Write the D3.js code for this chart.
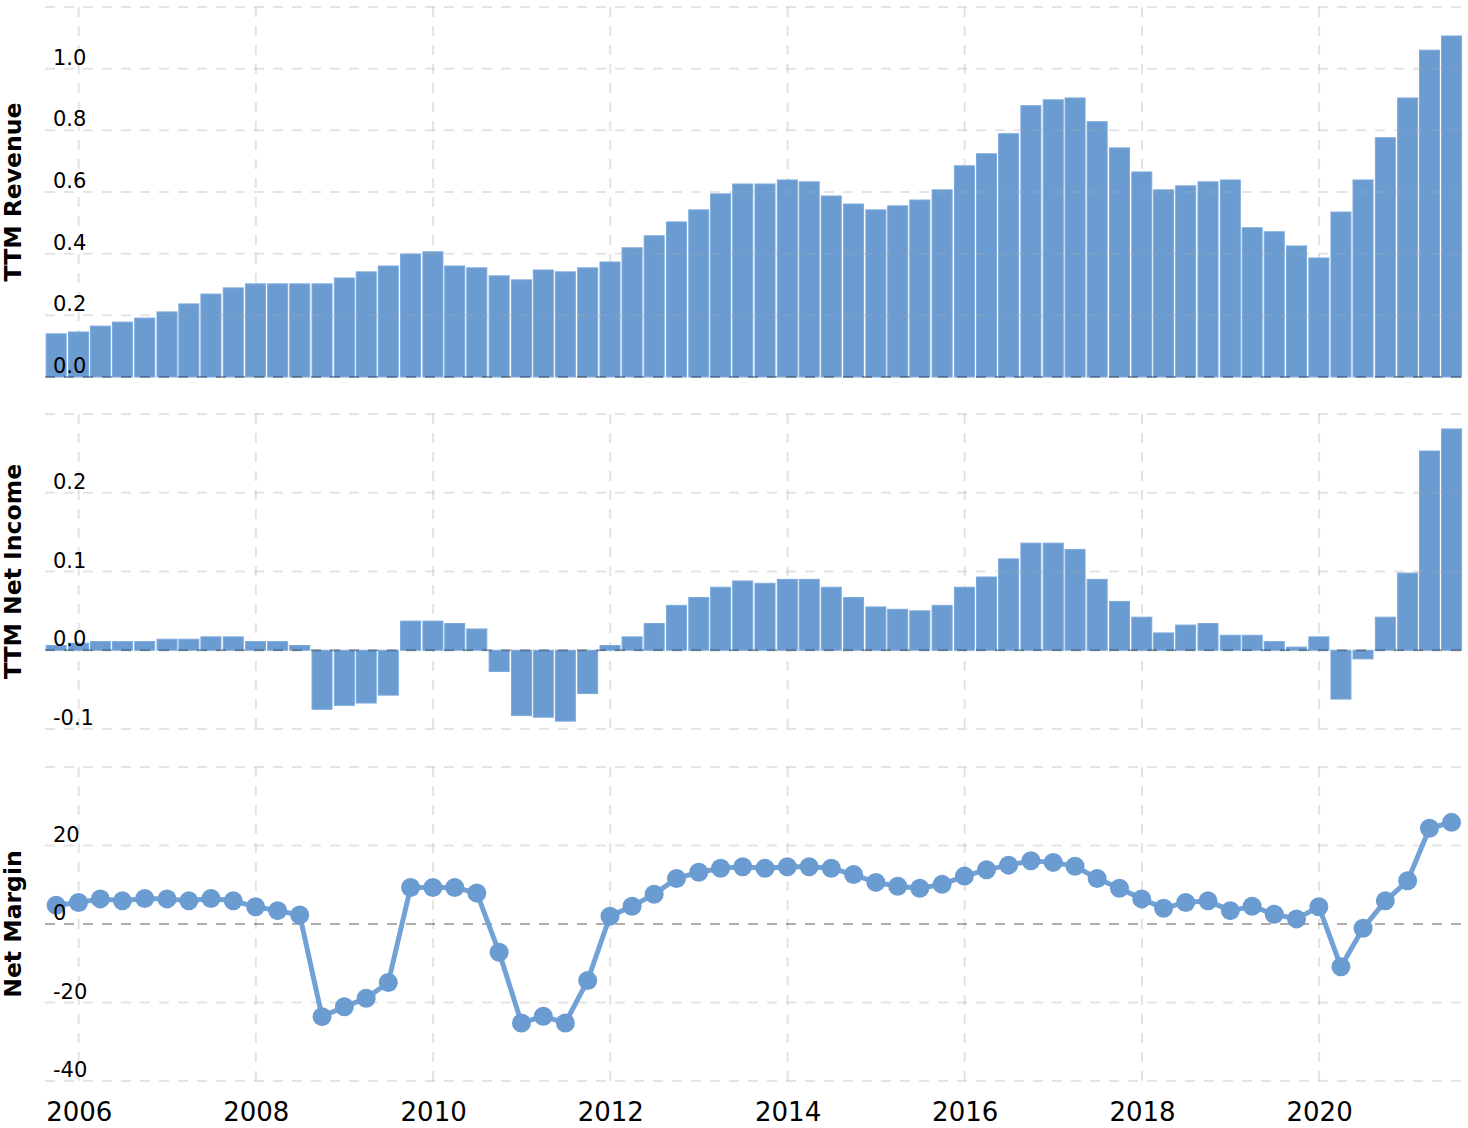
<!DOCTYPE html>
<html>
<head>
<meta charset="utf-8">
<script src="https://cdn.jsdelivr.net/npm/d3@7"></script>
<style>
  body { margin: 0; background: #fff; }
  text { font-family: "DejaVu Sans", Verdana, sans-serif; }
</style>
</head>
<body>
<div id="vis"></div>
<script>
const FRAME_WIDTH = 1468;
const FRAME_HEIGHT = 1128;
const PLOT_LEFT = 45;
const PLOT_RIGHT = 1462;
const BAR_COLOR = "#6a9bd1";

// quarter end dates (one per bar / point)
const QUARTERS = [
  "2005-09-30", "2005-12-31",
  "2006-03-31", "2006-06-30", "2006-09-30", "2006-12-31",
  "2007-03-31", "2007-06-30", "2007-09-30", "2007-12-31",
  "2008-03-31", "2008-06-30", "2008-09-30", "2008-12-31",
  "2009-03-31", "2009-06-30", "2009-09-30", "2009-12-31",
  "2010-03-31", "2010-06-30", "2010-09-30", "2010-12-31",
  "2011-03-31", "2011-06-30", "2011-09-30", "2011-12-31",
  "2012-03-31", "2012-06-30", "2012-09-30", "2012-12-31",
  "2013-03-31", "2013-06-30", "2013-09-30", "2013-12-31",
  "2014-03-31", "2014-06-30", "2014-09-30", "2014-12-31",
  "2015-03-31", "2015-06-30", "2015-09-30", "2015-12-31",
  "2016-03-31", "2016-06-30", "2016-09-30", "2016-12-31",
  "2017-03-31", "2017-06-30", "2017-09-30", "2017-12-31",
  "2018-03-31", "2018-06-30", "2018-09-30", "2018-12-31",
  "2019-03-31", "2019-06-30", "2019-09-30", "2019-12-31",
  "2020-03-31", "2020-06-30", "2020-09-30", "2020-12-31",
  "2021-03-31", "2021-06-30"
];

// TTM revenue (billions)
const REVENUE = [
  0.140, 0.146,
  0.165, 0.178, 0.191, 0.211,
  0.237, 0.269, 0.289, 0.302,
  0.302, 0.302, 0.302, 0.321,
  0.341, 0.360, 0.399, 0.406,
  0.360, 0.354, 0.328, 0.315,
  0.347, 0.341, 0.354, 0.373,
  0.419, 0.458, 0.503, 0.542,
  0.594, 0.626, 0.626, 0.639,
  0.633, 0.587, 0.561, 0.542,
  0.555, 0.574, 0.607, 0.685,
  0.724, 0.789, 0.880, 0.899,
  0.905, 0.828, 0.743, 0.665,
  0.607, 0.620, 0.633, 0.639,
  0.484, 0.471, 0.425, 0.386,
  0.535, 0.639, 0.776, 0.905,
  1.060, 1.106
];

// TTM net income (billions)
const NET_INCOME = [
  0.006, 0.009,
  0.011, 0.011, 0.011, 0.014,
  0.014, 0.017, 0.017, 0.011,
  0.011, 0.006, -0.075, -0.070,
  -0.067, -0.057, 0.037, 0.037,
  0.034, 0.027, -0.027, -0.083,
  -0.085, -0.090, -0.055, 0.006,
  0.017, 0.034, 0.057, 0.067,
  0.080, 0.088, 0.085, 0.090,
  0.090, 0.080, 0.067, 0.055,
  0.052, 0.050, 0.057, 0.080,
  0.093, 0.116, 0.136, 0.136,
  0.128, 0.090, 0.062, 0.042,
  0.022, 0.032, 0.034, 0.019,
  0.019, 0.011, 0.004, 0.017,
  -0.062, -0.011, 0.042, 0.098,
  0.253, 0.281
];

// net margin (%)
const NET_MARGIN = [
  4.8, 5.5,
  6.4, 5.9, 6.5, 6.4,
  5.9, 6.5, 5.9, 4.4,
  3.4, 2.3, -23.6, -21.1,
  -18.9, -14.9, 9.3, 9.3,
  9.3, 7.9, -7.2, -25.2,
  -23.5, -25.2, -14.4, 2.0,
  4.5, 7.6, 11.6, 13.2,
  14.2, 14.6, 14.2, 14.6,
  14.6, 14.2, 12.6, 10.6,
  9.6, 9.1, 10.1, 12.2,
  13.8, 15.0, 16.1, 15.7,
  14.7, 11.6, 9.1, 6.4,
  4.0, 5.5, 5.9, 3.4,
  4.5, 2.5, 1.3, 4.4,
  -10.9, -1.1, 5.9, 11.0,
  24.4, 25.9
];

const YEAR_TICKS = ["2006", "2008", "2010", "2012", "2014", "2016", "2018", "2020"];

const REV_GRID = [0, 0.2, 0.4, 0.6, 0.8, 1.0, 1.2];
const REV_LABELS = [0, 0.2, 0.4, 0.6, 0.8, 1.0];
const NI_GRID = [-0.1, 0, 0.1, 0.2, 0.3];
const NI_LABELS = [-0.1, 0, 0.1, 0.2];
const NM_GRID = [-40, -20, 0, 20, 40];
const NM_LABELS = [-40, -20, 0, 20];

const parseDate = d3.timeParse("%Y-%m-%d");
const dates = QUARTERS.map(parseDate);

// d3.format gives a unicode minus; the original uses a plain hyphen
const plain = (f) => (d) => f(d).replace("\u2212", "-");

const FRAME = d3.select("#vis")
                .append("svg")
                  .attr("width", FRAME_WIDTH)
                  .attr("height", FRAME_HEIGHT);

// shared time scale
const X_SCALE = d3.scaleTime()
                  .domain([new Date(2005, 7, 15), new Date(2021, 7, 12)])
                  .range([PLOT_LEFT, PLOT_RIGHT]);

const BAR_W = 20;

// panels: top / bottom pixel of each plot area
const panels = [
  {title: "TTM Revenue", top: 7, bottom: 377, domain: [0, 1.2],
   grid: REV_GRID, labels: REV_LABELS, fmt: plain(d3.format(".1f")), values: REVENUE, type: "bar"},
  {title: "TTM Net Income", top: 414, bottom: 729, domain: [-0.1, 0.3],
   grid: NI_GRID, labels: NI_LABELS, fmt: plain(d3.format(".1f")), values: NET_INCOME, type: "bar"},
  {title: "Net Margin", top: 767, bottom: 1081, domain: [-40, 40],
   grid: NM_GRID, labels: NM_LABELS, fmt: plain(d3.format("d")), values: NET_MARGIN, type: "line"}
];

panels.forEach((p) => {
  const Y = d3.scaleLinear().domain(p.domain).range([p.bottom, p.top]);
  const g = FRAME.append("g");

  // vertical grid (behind marks)
  g.selectAll(".vgrid")
    .data(YEAR_TICKS)
    .enter()
    .append("line")
      .attr("x1", (d) => X_SCALE(new Date(+d, 0, 1)))
      .attr("x2", (d) => X_SCALE(new Date(+d, 0, 1)))
      .attr("y1", p.top)
      .attr("y2", p.bottom)
      .attr("stroke", "#e3e3e3")
      .attr("stroke-width", 2)
      .attr("stroke-dasharray", "10,9");

  if (p.type === "bar") {
    g.selectAll(".bar")
      .data(p.values)
      .enter()
      .append("rect")
        .attr("x", (d, i) => X_SCALE(dates[i]) - BAR_W / 2)
        .attr("width", BAR_W)
        .attr("y", (d) => Y(Math.max(0, d)))
        .attr("height", (d) => Math.abs(Y(d) - Y(0)))
        .attr("fill", BAR_COLOR)
        .attr("stroke", "#7caadc")
        .attr("stroke-width", 1);
  }

  // horizontal grid (drawn over the bars, faint)
  g.selectAll(".hgrid")
    .data(p.grid)
    .enter()
    .append("line")
      .attr("x1", PLOT_LEFT)
      .attr("x2", PLOT_RIGHT)
      .attr("y1", (d) => Y(d))
      .attr("y2", (d) => Y(d))
      .attr("stroke", (d) => d === 0 ? "rgba(0,0,0,0.32)" : "rgba(170,170,170,0.32)")
      .attr("stroke-width", 2)
      .attr("stroke-dasharray", "10,9");

  if (p.type === "line") {
    const line = d3.line()
                   .x((d, i) => X_SCALE(dates[i]))
                   .y((d) => Y(d));
    g.append("path")
      .datum(p.values)
      .attr("d", line)
      .attr("fill", "none")
      .attr("stroke", "#72a1d6")
      .attr("stroke-width", 5)
      .attr("stroke-linejoin", "round");
    g.selectAll(".dot")
      .data(p.values)
      .enter()
      .append("circle")
        .attr("cx", (d, i) => X_SCALE(dates[i]))
        .attr("cy", (d) => Y(d))
        .attr("r", 9.5)
        .attr("fill", BAR_COLOR);
  }

  // tick labels, sitting just above each gridline
  g.selectAll(".ylab")
    .data(p.labels)
    .enter()
    .append("text")
      .attr("x", 53)
      .attr("y", (d) => Y(d) - 4)
      .attr("font-size", "21px")
      .attr("fill", "#000")
      .text((d) => p.fmt(d));

  // axis title
  g.append("text")
    .attr("transform", "translate(21," + ((p.top + p.bottom) / 2) + ") rotate(-90)")
    .attr("text-anchor", "middle")
    .attr("font-size", "23.5px")
    .attr("font-weight", "bold")
    .text(p.title);
});

// x axis year labels
const xAxis = FRAME.append("g")
  .attr("transform", "translate(0,1121)")
  .call(d3.axisBottom(X_SCALE)
          .tickValues(YEAR_TICKS.map((d) => new Date(+d, 0, 1)))
          .tickFormat(d3.timeFormat("%Y"))
          .tickSize(0));
xAxis.select(".domain").remove();
xAxis.selectAll("text")
  .attr("y", 0)
  .attr("dy", 0)
  .attr("font-size", "26px")
  .attr("font-family", "DejaVu Sans, Verdana, sans-serif")
  .attr("fill", "#000");
</script>
</body>
</html>
